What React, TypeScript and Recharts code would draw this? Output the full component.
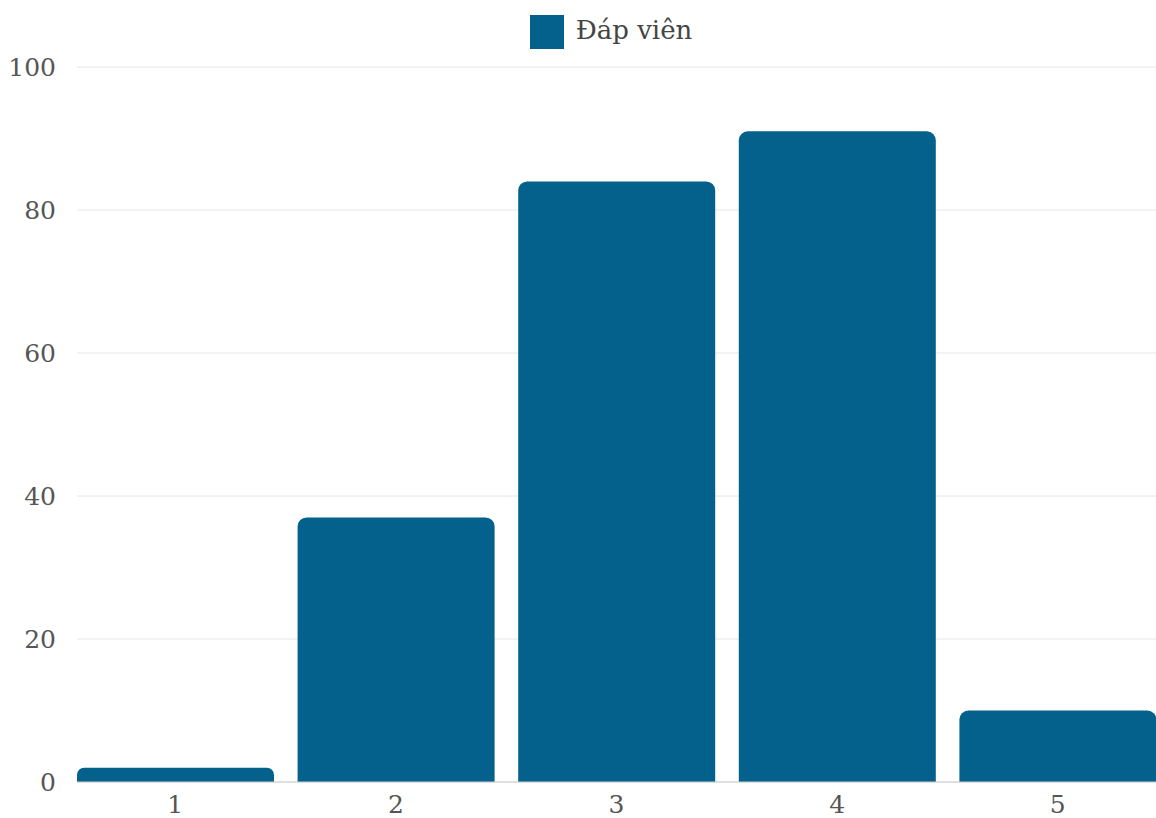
import { BarChart, Bar, XAxis, YAxis, CartesianGrid, Legend } from 'recharts';

const categories = ['1', '2', '3', '4', '5'];
const respondents = [2, 37, 84, 91, 10];
const yTicks = [0, 20, 40, 60, 80, 100];

const FONT = "'DejaVu Serif', 'Liberation Serif', serif";

export default function App() {
  const data = categories.map((c, i) => ({ name: c, value: respondents[i] }));

  return (
    <div style={{ position: 'absolute', left: 0, top: 0, fontFamily: FONT }}>
      <BarChart
        width={1156}
        height={818}
        data={data}
        margin={{ top: 12, right: 0, left: 0, bottom: 6 }}
        barCategoryGap={12}
      >
        <CartesianGrid vertical={false} stroke="#e6e6e6" />
        <Legend
          verticalAlign="top"
          align="center"
          height={55}
          iconType="square"
          iconSize={34}
          wrapperStyle={{ fontFamily: FONT, fontSize: 26, color: '#444', top: 15, left: 38 }}
          formatter={(v) => <span style={{ color: '#444', marginLeft: 8 }}>{v}</span>}
        />
        <XAxis
          dataKey="name"
          height={30}
          padding={{ left: -12, right: -12 }}
          tickLine={false}
          axisLine={{ stroke: '#cccccc' }}
          tick={{ fill: '#555', fontSize: 25, fontFamily: FONT, dy: 5 }}
        />
        <YAxis
          width={77}
          domain={[0, 100]}
          ticks={yTicks}
          tickLine={false}
          axisLine={false}
          tick={{ fill: '#555', fontSize: 25, fontFamily: FONT, dx: -13 }}
        />
        <Bar
          dataKey="value"
          name="Đáp viên"
          fill="#03618c"
          radius={[9, 9, 0, 0]}
          isAnimationActive={false}
        />
      </BarChart>
    </div>
  );
}
